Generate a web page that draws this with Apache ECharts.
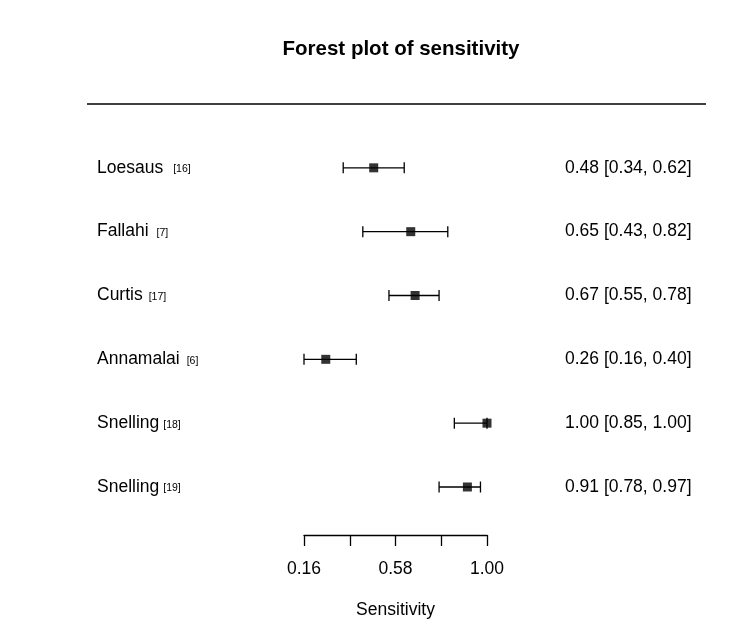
<!DOCTYPE html>
<html>
<head>
<meta charset="utf-8">
<script src="https://cdn.jsdelivr.net/npm/echarts@6/dist/echarts.min.js"></script>
<style>
  html, body { margin: 0; padding: 0; background: #fff; }
  #main { width: 750px; height: 643px; }
</style>
</head>
<body>
<div id="main"></div>
<script>
// study names and reference numbers
var studies = ['Loesaus', 'Fallahi', 'Curtis', 'Annamalai', 'Snelling', 'Snelling'];
var refs = ['[16]', '[7]', '[17]', '[6]', '[18]', '[19]'];
var refGap = [10, 8, 6, 7, 4, 4];
// sensitivity with 95% CI
var estimate = [0.48, 0.65, 0.67, 0.26, 1.00, 0.91];
var lower = [0.34, 0.43, 0.55, 0.16, 0.85, 0.78];
var upper = [0.62, 0.82, 0.78, 0.40, 1.00, 0.97];
var tickValues = [0.16, 0.37, 0.58, 0.79, 1.00];
var labelValues = [0.16, 0.58, 1.00];

var font = '"Liberation Sans", Arial, Helvetica, sans-serif';

var ciData = [];
var pointData = [];
for (var i = 0; i < studies.length; i++) {
  ciData.push([lower[i], upper[i], i]);
  pointData.push([estimate[i], i]);
}

var myChart = echarts.init(document.getElementById('main'));

var option = {
  backgroundColor: '#fff',
  animation: false,
  textStyle: { fontFamily: font, color: '#000' },
  title: {
    text: 'Forest plot of sensitivity',
    left: 396,
    top: 34,
    textAlign: 'center',
    textStyle: { fontFamily: font, fontSize: 20.5, fontWeight: 'bold', color: '#000' }
  },
  graphic: [{
    type: 'line',
    shape: { x1: 87, y1: 104, x2: 706, y2: 104 },
    style: { stroke: '#000', lineWidth: 1.3 }
  }],
  grid: { left: 304, right: 263, top: 104, bottom: 108 },
  xAxis: {
    type: 'value',
    min: 0.16,
    max: 1.0,
    name: 'Sensitivity',
    nameLocation: 'middle',
    nameGap: 66,
    nameTextStyle: { fontFamily: font, fontSize: 17.5, color: '#000' },
    axisLine: { show: true, onZero: false, lineStyle: { color: '#000', width: 1.3 } },
    axisTick: { show: true, length: 11, customValues: tickValues, lineStyle: { color: '#000', width: 1.3 } },
    axisLabel: {
      customValues: labelValues,
      margin: 25,
      fontSize: 17.5,
      color: '#000',
      fontFamily: font,
      formatter: function (v) { return v.toFixed(2); }
    },
    splitLine: { show: false }
  },
  yAxis: {
    type: 'value',
    min: -1.0,
    max: 5.752,
    inverse: true,
    show: false
  },
  series: [
    {
      type: 'custom',
      name: 'ci',
      data: ciData,
      encode: { x: [0, 1], y: 2 },
      renderItem: function (params, api) {
        var lo = api.coord([api.value(0), api.value(2)]);
        var hi = api.coord([api.value(1), api.value(2)]);
        var h = 5.5;
        var st = { stroke: '#000', lineWidth: 1.3 };
        return {
          type: 'group',
          children: [
            { type: 'line', shape: { x1: lo[0], y1: lo[1], x2: hi[0], y2: hi[1] }, style: st },
            { type: 'line', shape: { x1: lo[0], y1: lo[1] - h, x2: lo[0], y2: lo[1] + h }, style: st },
            { type: 'line', shape: { x1: hi[0], y1: hi[1] - h, x2: hi[0], y2: hi[1] + h }, style: st }
          ]
        };
      }
    },
    {
      type: 'scatter',
      name: 'estimate',
      data: pointData,
      symbol: 'rect',
      symbolSize: 9,
      itemStyle: { color: '#000' },
      z: 5
    },
    {
      type: 'custom',
      name: 'labels',
      data: pointData,
      encode: { x: 0, y: 1 },
      renderItem: function (params, api) {
        var idx = params.dataIndex;
        var p = api.coord([api.value(0), api.value(1)]);
        return {
          type: 'group',
          children: [
            {
              type: 'text',
              x: 97,
              y: p[1],
              style: {
                text: '{n|' + studies[idx] + '}{r|' + refs[idx] + '}',
                verticalAlign: 'middle',
                align: 'left',
                rich: {
                  n: { fontFamily: font, fontSize: 17.5, fill: '#000', verticalAlign: 'bottom' },
                  r: { fontFamily: font, fontSize: 10.5, fill: '#000', verticalAlign: 'bottom', padding: [0, 0, 2, refGap[idx]] }
                }
              }
            },
            {
              type: 'text',
              x: 565,
              y: p[1],
              style: {
                text: estimate[idx].toFixed(2) + ' [' + lower[idx].toFixed(2) + ', ' + upper[idx].toFixed(2) + ']',
                verticalAlign: 'middle',
                align: 'left',
                fontFamily: font,
                fontSize: 17.5,
                fill: '#000'
              }
            }
          ]
        };
      }
    }
  ]
};

myChart.setOption(option);
</script>
</body>
</html>
